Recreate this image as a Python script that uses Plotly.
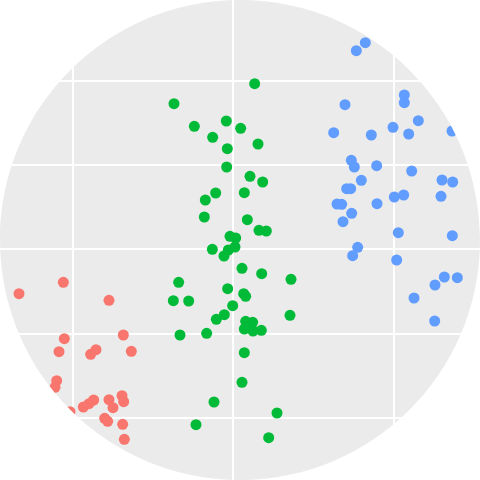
import plotly.graph_objects as go

species = ["setosa", "versicolor", "virginica"]
colors = ["#F8766D", "#00BA38", "#619CFF"]

setosa_x = [5.7, 19.0, 32.7, 19.3, 37.0, 17.7, 27.2, 28.8, 39.4, 17.0, 16.5, 25.0,
            26.7, 28.1, 32.7, 33.9, 36.6, 37.1, 31.4, 32.3, 36.8, 37.3, 21.0]
setosa_y = [55.9, 59.3, 53.9, 42.4, 43.5, 38.5, 37.7, 39.1, 38.6, 29.8, 27.8, 21.9,
            22.9, 24.0, 24.1, 21.7, 25.3, 23.5, 18.5, 17.6, 16.7, 12.2, 20.5]

versicolor_x = [76.4, 52.2, 58.3, 67.9, 72.2, 63.8, 77.4, 68.2, 68.0, 75.0,
                78.8, 64.7, 73.3, 61.6, 61.3, 74.2, 77.7, 79.9, 69.0, 70.7,
                63.7, 68.5, 70.5, 67.2, 72.6, 78.5, 87.3, 53.6, 68.3, 73.1,
                73.7, 52.0, 56.6, 69.8, 67.3, 64.9, 87.0, 73.7, 75.8, 73.3,
                75.9, 78.4, 54.0, 62.0, 73.3, 72.6, 64.2, 83.1, 58.8, 80.6]
versicolor_y = [118.9, 112.9, 106.1, 107.7, 105.5, 102.8, 100.8, 99.4, 93.9, 91.1,
                89.4, 86.1, 86.2, 84.0, 78.9, 78.1, 74.9, 74.7, 73.1, 72.6,
                69.2, 69.0, 69.9, 67.2, 63.5, 61.9, 60.2, 59.3, 57.4, 55.9,
                55.1, 53.8, 53.7, 52.3, 49.6, 48.2, 49.4, 47.6, 47.3, 45.3,
                44.7, 44.9, 43.5, 44.0, 38.2, 29.3, 23.4, 20.1, 16.6, 12.7]

virginica_x = [106.9, 109.6, 103.5, 121.3, 121.3, 100.1, 111.4, 117.9, 122.6, 125.5,
               135.6, 105.4, 106.3, 113.0, 123.5, 108.4, 132.6, 135.8, 104.0, 105.2,
               118.3, 121.1, 132.3, 101.1, 102.5, 113.1, 105.5, 102.9, 119.5, 135.7,
               107.3, 105.8, 119.0, 130.5, 133.3, 137.2, 124.2, 130.4]
virginica_y = [128.8, 131.2, 112.6, 115.5, 113.2, 104.2, 103.5, 105.8, 103.8, 107.8,
               104.7, 95.9, 93.9, 94.3, 92.7, 89.9, 90.0, 89.4, 87.4, 87.4,
               84.9, 85.5, 85.1, 82.8, 82.7, 82.9, 80.0, 77.5, 74.2, 73.3,
               69.8, 67.3, 66.0, 58.5, 60.9, 60.7, 54.6, 47.7]

x_grid = [21.8, 70.0, 118.3]
y_grid = [18.7, 43.9, 69.2, 94.4, 119.7]

xs = [setosa_x, versicolor_x, virginica_x]
ys = [setosa_y, versicolor_y, virginica_y]

fig = go.Figure()
for name, c, x, y in zip(species, colors, xs, ys):
    fig.add_trace(go.Scatter(x=x, y=y, mode="markers", name=name,
                             marker=dict(color=c, size=11, line=dict(width=0)),
                             cliponaxis=False))

k = 0.5 * 0.5523
circle_mask = (
    "M-0.02,-0.02 H1.02 V1.02 H-0.02 Z "
    f"M0.5,0 C{0.5+k},0 1,{0.5-k} 1,0.5 "
    f"C1,{0.5+k} {0.5+k},1 0.5,1 "
    f"C{0.5-k},1 0,{0.5+k} 0,0.5 "
    f"C0,{0.5-k} {0.5-k},0 0.5,0 Z"
)
fig.add_shape(type="path", path=circle_mask, xref="paper", yref="paper",
              fillcolor="white", fillrule="evenodd", line=dict(width=0),
              layer="above")

fig.update_layout(
    width=480, height=480, autosize=False,
    margin=dict(l=0, r=0, t=0, b=0),
    paper_bgcolor="white", plot_bgcolor="#EBEBEB",
    showlegend=False,
    xaxis=dict(range=[0, 144], tickvals=x_grid, ticktext=species,
               showticklabels=False, ticks="", gridcolor="white", gridwidth=2,
               zeroline=False, showline=False, fixedrange=True),
    yaxis=dict(range=[0, 144], tickvals=y_grid, showticklabels=False, ticks="",
               gridcolor="white", gridwidth=2, zeroline=False, showline=False,
               fixedrange=True),
)

fig.write_html("out.html", config={"displayModeBar": False},
               post_script="document.body.style.margin='0';document.body.style.overflow='hidden';")
